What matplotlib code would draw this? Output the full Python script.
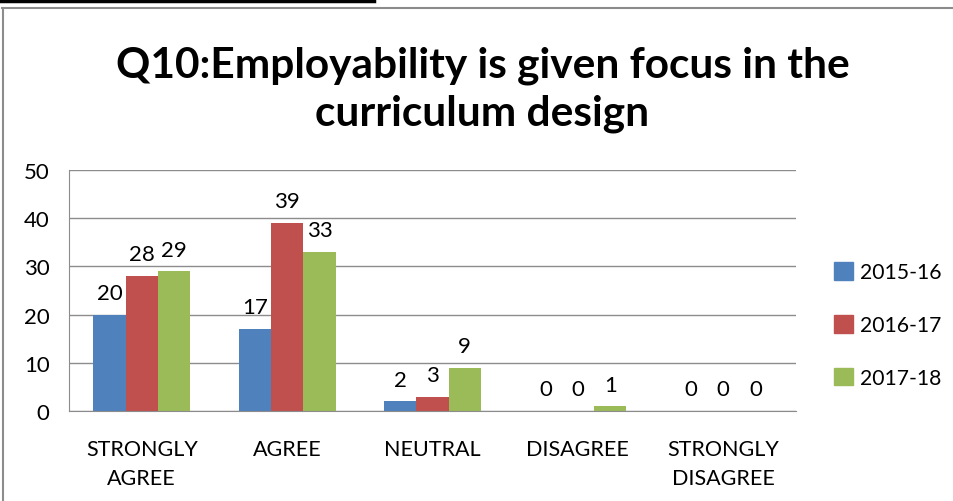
import matplotlib.pyplot as plt
from matplotlib.lines import Line2D
from matplotlib.patches import Patch
import numpy as np

categories = ["STRONGLY\nAGREE", "AGREE", "NEUTRAL", "DISAGREE", "STRONGLY\nDISAGREE"]
series_names = ["2015-16", "2016-17", "2017-18"]
v_2015 = [20, 17, 2, 0, 0]
v_2016 = [28, 39, 3, 0, 0]
v_2017 = [29, 33, 9, 1, 0]
colors = ["#4F81BD", "#C0504D", "#9BBB59"]

plt.rcParams['font.family'] = ['Lato', 'DejaVu Sans']

W, H = 954, 502
fig = plt.figure(figsize=(W / 100, H / 100), dpi=100)
ax = fig.add_axes([69 / W, 1 - 412 / H, (796 - 69) / W, (412 - 171) / H])

x = np.arange(len(categories))
bw = 1 / 4.5
for i, vals in enumerate([v_2015, v_2016, v_2017]):
    pos = x + (i - 1) * bw
    ax.bar(pos, vals, width=bw, color=colors[i], label=series_names[i])
    for p, v in zip(pos, vals):
        ax.text(p, v + 2.4, str(v), ha='center', va='bottom', fontsize=16)

ax.set_xlim(-0.5, len(categories) - 0.5)
ax.set_ylim(0, 50)
ax.set_yticks(range(0, 51, 10))
ax.yaxis.grid(True, color='#8c8c8c', linewidth=1)
ax.set_axisbelow(True)
for s in ['top', 'right']:
    ax.spines[s].set_visible(False)
for s in ['left', 'bottom']:
    ax.spines[s].set_color('#8c8c8c')
ax.tick_params(axis='y', length=0, labelsize=16, pad=14)
ax.tick_params(axis='x', length=0, labelsize=15.5, pad=20)
ax.set_xticks(x)
ax.set_xticklabels(categories, linespacing=1.55)

handles = [Patch(color=c) for c in colors]
fig.legend(handles, series_names, loc='center left', bbox_to_anchor=(834 / W, 1 - 326 / H),
           frameon=False, fontsize=15.2, handlelength=0.9, handleheight=0.9,
           handletextpad=0.35, labelspacing=1.55, borderpad=0, borderaxespad=0)

fig.text(0.5 * (69 + 896) / W, 1 - 90 / H, "Q10:Employability is given focus in the\ncurriculum design",
         ha='center', va='center', fontsize=30.5, fontweight='bold', linespacing=1.3)

# frame lines
fig.add_artist(Line2D([0, 374 / W], [1 - 1.5 / H, 1 - 1.5 / H], color='black', linewidth=2.5))
fig.add_artist(Line2D([2 / W, 1], [1 - 8.5 / H, 1 - 8.5 / H], color='#8c8c8c', linewidth=1.5))
fig.add_artist(Line2D([2.5 / W, 2.5 / W], [0, 1 - 8.5 / H], color='#8c8c8c', linewidth=1.5))

fig.savefig("out.png", dpi=100)
